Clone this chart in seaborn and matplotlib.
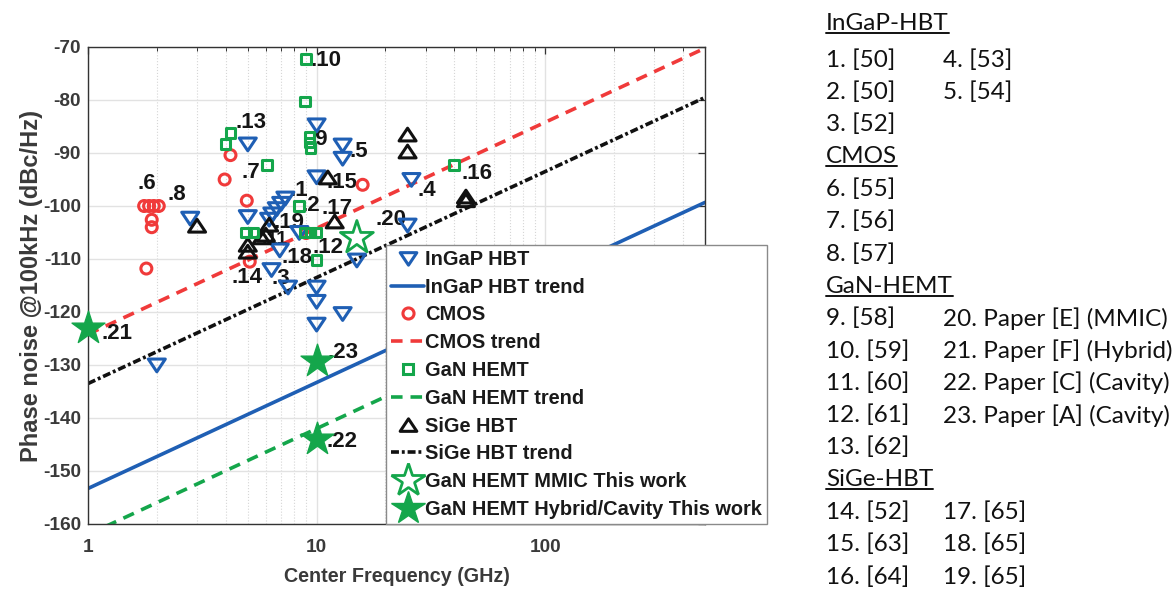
import numpy as np
import pandas as pd
import matplotlib
matplotlib.use("Agg")
import matplotlib.pyplot as plt
import seaborn as sns
from matplotlib.lines import Line2D
from matplotlib.path import Path

# ---------------- data ----------------
ingap_f = [2.0, 2.8, 5.0, 5.0, 10.0, 13.0, 13.0, 10.0, 26.0, 25.0, 15.0,
           7.3, 7.0, 6.7, 6.4, 6.2, 8.4, 6.9, 6.35, 7.5, 10.0, 10.0, 10.0, 13.0]
ingap_pn = [-130.0, -102.3, -102.0, -88.3, -84.7, -88.5, -91.0, -94.5, -95.0, -103.6, -110.2,
            -98.5, -99.5, -100.5, -101.5, -102.5, -105.0, -108.3, -112.0, -115.3, -115.3, -118.0, -122.3, -120.3]

cmos_f = [1.76, 1.85, 1.94, 2.04, 1.9, 1.9, 1.8, 4.2, 3.96, 4.95, 5.1, 15.9, 9.0]
cmos_pn = [-100.0, -100.0, -100.0, -100.0, -102.6, -104.0, -111.8, -90.4, -95.0, -99.0, -110.5, -96.0, -105.1]

gan_f = [9.0, 8.9, 9.3, 9.3, 9.4, 4.2, 4.0, 6.05, 8.4, 4.9, 5.3, 8.9, 9.4, 10.0, 10.0, 40.0]
gan_pn = [-72.3, -80.3, -87.0, -88.0, -89.0, -86.2, -88.3, -92.3, -100.0, -105.0, -105.0,
          -105.0, -105.0, -105.0, -110.2, -92.3]

sige_f = [3.0, 5.0, 5.0, 5.75, 6.2, 6.0, 11.2, 12.0, 25.0, 25.0, 45.0, 45.0]
sige_pn = [-103.8, -107.4, -108.7, -106.0, -103.6, -105.5, -94.7, -103.0, -86.6, -89.8, -98.3, -99.0]

mmic_f = [15.0]
mmic_pn = [-106.0]
hybrid_f = [1.0, 10.0, 10.0]
hybrid_pn = [-123.0, -129.3, -144.0]

# trend lines: PN = intercept(at 1 GHz) + slope*log10(f)
trend_names = ["InGaP HBT trend", "CMOS trend", "GaN HEMT trend", "SiGe HBT trend"]
trend_intercept = [-153.3, -124.2, -162.0, -133.5]
trend_slope = 20.0
freq_span = [1.0, 500.0]

label_text = [".10", ".13", ".9", ".5", ".7", ".6", ".8", ".15", ".1", ".4", ".16", ".20",
              ".2", ".17", ".19", ".12", ".18", ".14", ".3", ".11", ".21", ".23", ".22"]
label_f = [9.4, 4.42, 9.3, 13.9, 4.7, 1.64, 2.23, 11.1, 7.6, 27.6, 43.0, 18.1,
           8.6, 10.5, 6.45, 9.6, 7.0, 4.26, 6.36, 5.75, 1.15, 11.2, 11.1]
label_pn = [-72.5, -84.2, -87.5, -89.8, -93.6, -95.7, -97.9, -95.5, -97.0, -97.0, -93.8, -102.6,
            -99.9, -100.4, -103.2, -107.9, -109.7, -113.4, -113.6, -106.4, -124.0, -127.7, -144.5]
label_size = [16, 16, 16, 16, 16, 16, 16, 16, 16, 16, 16, 16,
              16, 16, 16, 16, 16, 16, 16, 14, 16, 16, 16]

ref_headings = ["InGaP-HBT", "CMOS", "GaN-HEMT", "SiGe-HBT"]
ref_col1 = [["1. [50]", "2. [50]", "3. [52]"],
            ["6. [55]", "7. [56]", "8. [57]"],
            ["9. [58]", "10. [59]", "11. [60]", "12. [61]", "13. [62]"],
            ["14. [52]", "15. [63]", "16. [64]"]]
ref_col2 = [["4. [53]", "5. [54]"],
            [],
            ["20. Paper [E] (MMIC)", "21. Paper [F] (Hybrid)", "22. Paper [C] (Cavity)", "23. Paper [A] (Cavity)"],
            ["17. [65]", "18. [65]", "19. [65]"]]

xticks = [1, 10, 100]
xtick_labels = ["1", "10", "100"]
yticks = list(range(-160, -69, 10))

# ---------------- styling ----------------
sns.set_theme(style="white")
plt.rcParams["font.family"] = ["Liberation Sans", "DejaVu Sans"]

BLUE = "#1f5fb4"
RED = "#f03a3a"
GREEN = "#14a64b"
BLACK = "#111111"
TXT = "#3a3a3a"

W, H = 1174, 595
fig = plt.figure(figsize=(W / 100, H / 100), dpi=100)
ax = fig.add_axes([88 / W, 1 - 524 / H, 617 / W, 477 / H])
ax.set_xscale("log")

tri_down = Path([(-1, 0.7), (1, 0.7), (0, -0.8), (-1, 0.7)], [1, 2, 2, 79])
tri_up = Path([(-1, -0.7), (1, -0.7), (0, 0.8), (-1, -0.7)], [1, 2, 2, 79])

# trend lines
line_styles = {
    "InGaP HBT trend": dict(color=BLUE, dashes=(None, None)),
    "CMOS trend": dict(color=RED, dashes=(3.2, 2.2)),
    "GaN HEMT trend": dict(color=GREEN, dashes=(3.2, 2.2)),
    "SiGe HBT trend": dict(color=BLACK, dashes=(2.2, 0.8, 0.8, 0.8)),
}
fspan = np.array(freq_span)
for name, b in zip(trend_names, trend_intercept):
    df = pd.DataFrame({"f": fspan, "pn": b + trend_slope * np.log10(fspan)})
    st = line_styles[name]
    sns.lineplot(data=df, x="f", y="pn", ax=ax, color=st["color"], linewidth=2.6,
                 zorder=2, legend=False)
    l = ax.lines[-1]
    if st["dashes"][0] is not None:
        l.set_dashes(st["dashes"])

# labels (drawn beneath markers)
for t, f, p, fs in zip(label_text, label_f, label_pn, label_size):
    ax.text(f, p, t, ha="left", va="center", fontsize=fs, fontweight="bold",
            color="#151515", zorder=3)

def hollow(fx, py, marker, s, color, lw=2.0, z=4):
    sns.scatterplot(x=fx, y=py, ax=ax, marker=marker, s=s, facecolor="none",
                    edgecolor=color, linewidth=lw, zorder=z, legend=False)

hollow(cmos_f, cmos_pn, "o", 62, RED, 2.2)
hollow(ingap_f, ingap_pn, tri_down, 150, BLUE, 2.2)
hollow(sige_f, sige_pn, tri_up, 150, BLACK, 2.2)
hollow(gan_f, gan_pn, "s", 48, GREEN, 2.2, z=5)
hollow(mmic_f, mmic_pn, "*", 620, GREEN, 2.0, z=6)
sns.scatterplot(x=hybrid_f, y=hybrid_pn, ax=ax, marker="*", s=620, color=GREEN,
                edgecolor=GREEN, linewidth=1, zorder=6, legend=False, clip_on=False)

ax.set_xlim(freq_span[0], freq_span[1])
ax.set_ylim(-160, -70)
ax.set_xticks(xticks)
ax.set_xticklabels(xtick_labels)
ax.set_yticks(yticks)
ax.set_yticklabels([str(v) for v in yticks])
ax.grid(True, which="major", color="#e2e2e2", linewidth=1.0, linestyle="-")
ax.grid(True, which="minor", axis="x", color="#d6d6d6", linewidth=0.8, linestyle=":")
ax.set_axisbelow(True)
ax.tick_params(which="both", direction="in", top=True, right=True, color="#333333")
ax.tick_params(which="major", length=5, width=0.9, labelsize=13.7, labelcolor=TXT)
ax.tick_params(axis="x", which="major", pad=11)
ax.tick_params(axis="y", which="major", pad=5)
ax.tick_params(which="minor", length=3, width=0.7)
for lab in ax.get_xticklabels() + ax.get_yticklabels():
    lab.set_fontweight("bold")
for sp in ax.spines.values():
    sp.set_color("#333333")
    sp.set_linewidth(1.0)
ax.set_xlabel("Center Frequency (GHz)", fontsize=14.2, fontweight="bold", color=TXT, labelpad=8)
ax.set_ylabel("Phase noise @100kHz (dBc/Hz)", fontsize=17, fontweight="bold", color=TXT, labelpad=0)

# legend
handles = [
    Line2D([], [], linestyle="none", marker=tri_down, markersize=12, markerfacecolor="none",
           markeredgecolor=BLUE, markeredgewidth=2.2),
    Line2D([], [], color=BLUE, linewidth=2.6),
    Line2D([], [], linestyle="none", marker="o", markersize=8, markerfacecolor="none",
           markeredgecolor=RED, markeredgewidth=2.2),
    Line2D([], [], color=RED, linewidth=2.6, dashes=(3.2, 2.2)),
    Line2D([], [], linestyle="none", marker="s", markersize=6.5, markerfacecolor="none",
           markeredgecolor=GREEN, markeredgewidth=2.2),
    Line2D([], [], color=GREEN, linewidth=2.6, dashes=(3.2, 2.2)),
    Line2D([], [], linestyle="none", marker=tri_up, markersize=12, markerfacecolor="none",
           markeredgecolor=BLACK, markeredgewidth=2.2),
    Line2D([], [], color=BLACK, linewidth=2.6, dashes=(2.2, 0.8, 0.8, 0.8)),
    Line2D([], [], linestyle="none", marker="*", markersize=25, markerfacecolor="none",
           markeredgecolor=GREEN, markeredgewidth=2.0),
    Line2D([], [], linestyle="none", marker="*", markersize=25, markerfacecolor=GREEN,
           markeredgecolor=GREEN),
]
labels = ["InGaP HBT", "InGaP HBT trend", "CMOS", "CMOS trend", "GaN HEMT", "GaN HEMT trend",
          "SiGe HBT", "SiGe HBT trend", "GaN HEMT MMIC This work", "GaN HEMT Hybrid/Cavity This work"]
leg = ax.legend(handles, labels, loc="lower left", bbox_to_anchor=(298 / 617, 0.0),
                bbox_transform=ax.transAxes, frameon=True, fancybox=False, framealpha=1,
                edgecolor="#8a8a8a", borderpad=0.25, labelspacing=0.44, handlelength=1.65,
                handletextpad=0.05, borderaxespad=0.0,
                prop=dict(family="Liberation Sans", weight="bold", size=14.4))
leg.get_frame().set_linewidth(1.0)
for t in leg.get_texts():
    t.set_color("#1a1a1a")
leg.set_zorder(10)

# right-hand reference list
x1, x2 = 826, 943
row_step = 32.3
row_y = 60
texts_u = []
for i, head in enumerate(ref_headings):
    hy = 23 if i == 0 else row_y
    if i > 0:
        row_y += row_step
    t = fig.text(x1 / W, 1 - hy / H, head, ha="left", va="center", fontsize=17.5,
                 family="Lato", color="#111111")
    texts_u.append(t)
    n = max(len(ref_col1[i]), len(ref_col2[i]))
    for k in range(n):
        if k < len(ref_col1[i]):
            fig.text(x1 / W, 1 - row_y / H, ref_col1[i][k], ha="left", va="center",
                     fontsize=17.5, family="Lato", color="#111111")
        if k < len(ref_col2[i]):
            fig.text(x2 / W, 1 - row_y / H, ref_col2[i][k], ha="left", va="center",
                     fontsize=17.5, family="Lato", color="#111111")
        row_y += row_step

fig.canvas.draw()
r = fig.canvas.get_renderer()
for t in texts_u:
    bb = t.get_window_extent(r)
    yy = (bb.y0 + 1.0) / H
    fig.add_artist(Line2D([bb.x0 / W, bb.x1 / W], [yy, yy], color="#111111", linewidth=1.4))

fig.savefig("out.png", dpi=100)
